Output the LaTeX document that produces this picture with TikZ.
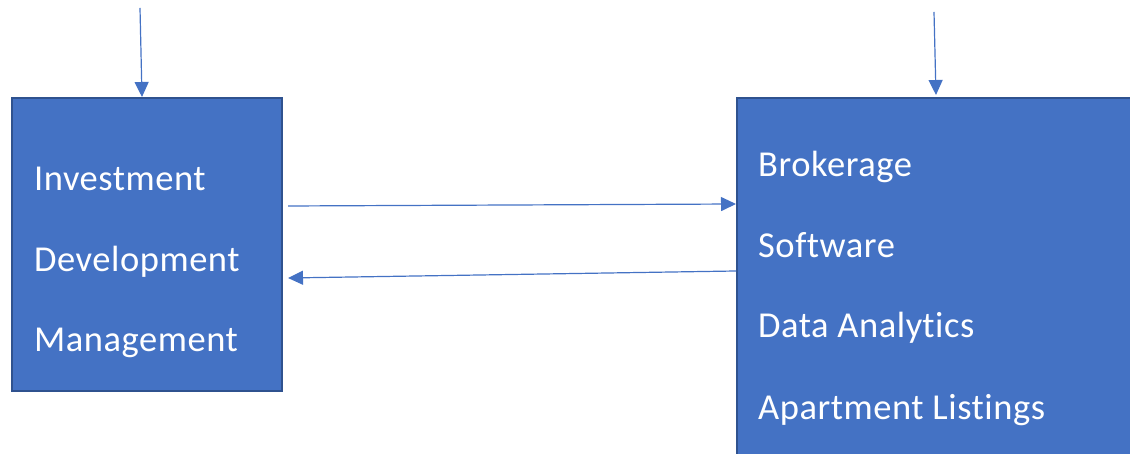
\documentclass[tikz,border=0pt]{standalone}
\usepackage{fontspec}
\setmainfont{Carlito}[LetterSpace=1.5,Ligatures={NoCommon,NoRare,NoDiscretionary}]
\usetikzlibrary{arrows.meta}
\definecolor{boxfill}{HTML}{4472C4}
\definecolor{boxedge}{HTML}{2F528F}
\definecolor{arrowblue}{HTML}{4472C4}
\tikzset{
  bluebox/.style={draw=boxedge, fill=boxfill, line width=2pt, inner sep=0pt, anchor=north west},
  lbl/.style={text=white, font=\fontsize{36.5}{43}\selectfont, anchor=base west, inner sep=0pt},
  arr/.style={draw=arrowblue, line width=1.2pt, -{Triangle[length=15pt,width=14pt]}}
}
\begin{document}
\begin{tikzpicture}[x=1pt,y=1pt]
\useasboundingbox (0,0) rectangle (1130,454);
\clip (0,0) rectangle (1130,454);
\node[bluebox, minimum width=270pt, minimum height=293pt] (L) at (11,357) {};
\node[bluebox, minimum width=430pt, minimum height=400pt] (R) at (736,357) {};
\node[lbl] (t1) at (34,263) {Investment};
\node[lbl] (t2) at (34,182) {Development};
\node[lbl] (t3) at (34,102) {Management};
\node[lbl] (r1) at (758,277) {Brokerage};
\node[lbl] (r2) at (758,196) {Software};
\node[lbl] (r3) at (758,116) {Data Analy\kern0pt tics};
\node[lbl] (r4) at (758,34) {Apartment Listings};
\coordinate (inL) at (140,446);
\coordinate (inR) at (934,442);
\draw[arr] (inL) -- ([xshift=131pt]L.north west);
\draw[arr] (inR) -- ([xshift=200pt,yshift=2pt]R.north west);
\draw[arr] ([xshift=5pt,yshift=-109pt]L.north east) -- ([yshift=-107pt]R.north west);
\draw[arr] ([yshift=-174pt]R.north west) -- ([xshift=5pt,yshift=-181pt]L.north east);
\end{tikzpicture}
\end{document}
